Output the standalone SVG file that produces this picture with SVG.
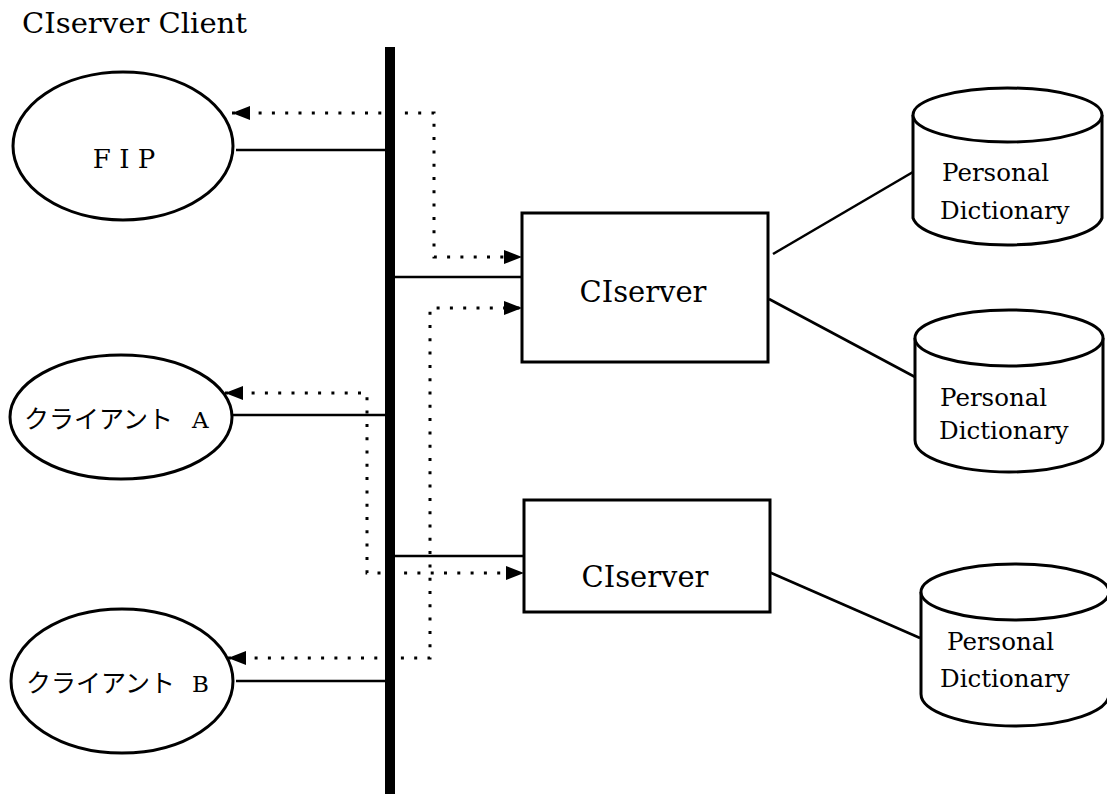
<svg xmlns="http://www.w3.org/2000/svg" width="1107" height="794" viewBox="0 0 1107 794">
<style>
.shape{fill:#fff;stroke:#000;stroke-width:3}
.ln{fill:none;stroke:#000;stroke-width:2.6}
.dot{fill:none;stroke:#000;stroke-width:3;stroke-dasharray:3 10.3}
.t{font-family:"DejaVu Serif","Noto Sans CJK JP",serif;fill:#000}
.j{font-family:"Noto Sans CJK JP",sans-serif}
</style>
<defs>
<marker id="ah" markerUnits="userSpaceOnUse" markerWidth="20" markerHeight="16" refX="18" refY="7" orient="auto-start-reverse" viewBox="0 0 20 14">
<path d="M0,0 L18,7 L0,14 Z" fill="#000"/>
</marker>
</defs>
<rect width="1107" height="794" fill="#fff"/>
<text class="t" x="22" y="33" font-size="27" textLength="225" lengthAdjust="spacingAndGlyphs">CIserver Client</text>
<g id="bus"><rect x="385" y="47" width="10" height="747" fill="#000"/></g>
<g id="connectors">
<line class="ln" x1="236" y1="150" x2="386" y2="150"/>
<line class="ln" x1="233" y1="415" x2="386" y2="415"/>
<line class="ln" x1="236" y1="681" x2="386" y2="681"/>
<line class="ln" x1="395" y1="277" x2="523" y2="277"/>
<line class="ln" x1="395" y1="556" x2="525" y2="556"/>
<line class="ln" x1="773" y1="254" x2="913" y2="172"/>
<line class="ln" x1="769" y1="299" x2="915" y2="377"/>
<line class="ln" x1="769" y1="572" x2="920" y2="638"/>
<path class="dot" d="M232,113 H434 V257 H522" marker-start="url(#ah)" marker-end="url(#ah)"/>
<path class="dot" d="M228,658 H430 V308 H522" marker-start="url(#ah)" marker-end="url(#ah)"/>
<path class="dot" d="M225,393 H367 V573 H524" marker-start="url(#ah)" marker-end="url(#ah)"/>
</g>
<g id="fip">
<ellipse class="shape" cx="123" cy="146" rx="110" ry="74"/>
<text class="t" x="124" y="168" font-size="26" text-anchor="middle">F I P</text>
</g>
<g id="clientA">
<ellipse class="shape" cx="121" cy="417" rx="111" ry="62"/>
<text class="t" x="24" y="428" font-size="25"><tspan class="j">クライアント </tspan><tspan x="192" font-size="23">A</tspan></text>
</g>
<g id="clientB">
<ellipse class="shape" cx="122" cy="681" rx="111" ry="72"/>
<text class="t" x="26" y="692" font-size="25"><tspan class="j">クライアント </tspan><tspan x="192" font-size="23">B</tspan></text>
</g>
<g id="server1">
<rect class="shape" x="522" y="213" width="246" height="149"/>
<text class="t" x="643" y="302" font-size="29" text-anchor="middle">CIserver</text>
</g>
<g id="server2">
<rect class="shape" x="524" y="500" width="246" height="112"/>
<text class="t" x="645" y="587" font-size="29" text-anchor="middle">CIserver</text>
</g>
<g id="dict1">
<path class="shape" d="M913,115 V218 A95,30 0 0 0 1102,218 V115"/>
<ellipse class="shape" cx="1007.5" cy="115" rx="94.5" ry="27"/>
<text class="t" x="942" y="181" font-size="24.5">Personal</text>
<text class="t" x="940" y="219" font-size="24.5">Dictionary</text>
</g>
<g id="dict2">
<path class="shape" d="M915,338 V440 A94,32 0 0 0 1103,440 V338"/>
<ellipse class="shape" cx="1009" cy="338" rx="94" ry="28"/>
<text class="t" x="940" y="406" font-size="24.5">Personal</text>
<text class="t" x="939" y="439" font-size="24.5">Dictionary</text>
</g>
<g id="dict3">
<path class="shape" d="M921,592 V694 A94,32 0 0 0 1109,694 V592"/>
<ellipse class="shape" cx="1015" cy="592" rx="94" ry="28"/>
<text class="t" x="947" y="650" font-size="24.5">Personal</text>
<text class="t" x="940" y="687" font-size="24.5">Dictionary</text>
</g>
</svg>
